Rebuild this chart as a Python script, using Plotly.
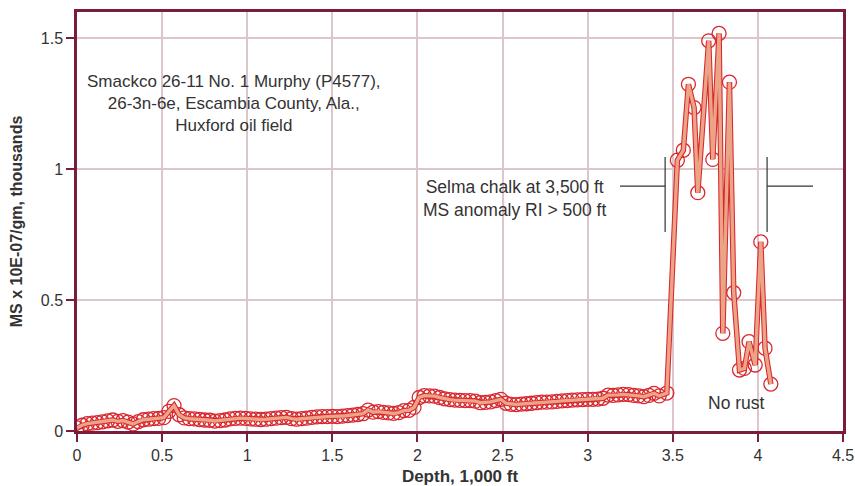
import plotly.graph_objects as go

# Magnetic susceptibility log, Smackco 26-11 No. 1 Murphy (P4577)
depth_shallow = [
    0.00, 0.03, 0.06, 0.09, 0.12, 0.15, 0.18, 0.21, 0.24, 0.27,
    0.30, 0.33, 0.36, 0.39, 0.42, 0.45, 0.48, 0.51, 0.54, 0.57,
    0.60, 0.63, 0.66, 0.69, 0.72, 0.75, 0.78, 0.81, 0.84, 0.87,
    0.90, 0.93, 0.96, 0.99, 1.02, 1.05, 1.08, 1.11, 1.14, 1.17,
    1.20, 1.23, 1.26, 1.29, 1.32, 1.35, 1.38, 1.41, 1.44, 1.47,
    1.50, 1.53, 1.56, 1.59, 1.62, 1.65, 1.68, 1.71, 1.74, 1.77,
    1.80, 1.83, 1.86, 1.89, 1.92, 1.95, 1.98, 2.01, 2.04, 2.07,
    2.10, 2.13, 2.16, 2.19, 2.22, 2.25, 2.28, 2.31, 2.34, 2.37,
    2.40, 2.43, 2.46, 2.49, 2.52, 2.55, 2.58, 2.61, 2.64, 2.67,
    2.70, 2.73, 2.76, 2.79, 2.82, 2.85, 2.88, 2.91, 2.94, 2.97,
    3.00, 3.03, 3.06, 3.09, 3.12, 3.15, 3.18, 3.21, 3.24, 3.27,
    3.30, 3.33, 3.36, 3.39, 3.42, 3.465,
]
ms_shallow = [
    0.012, 0.022, 0.028, 0.030, 0.032, 0.035, 0.039, 0.042, 0.037, 0.040,
    0.034, 0.027, 0.036, 0.043, 0.045, 0.047, 0.048, 0.051, 0.075, 0.097,
    0.062, 0.050, 0.047, 0.046, 0.044, 0.042, 0.041, 0.038, 0.040, 0.042,
    0.046, 0.048, 0.049, 0.048, 0.046, 0.045, 0.044, 0.045, 0.047, 0.049,
    0.051, 0.052, 0.047, 0.045, 0.047, 0.049, 0.052, 0.054, 0.055, 0.055,
    0.056, 0.055, 0.057, 0.059, 0.061, 0.063, 0.066, 0.080, 0.072, 0.074,
    0.071, 0.069, 0.067, 0.070, 0.078, 0.079, 0.090, 0.128, 0.135, 0.134,
    0.133, 0.128, 0.123, 0.120, 0.118, 0.117, 0.116, 0.116, 0.114, 0.108,
    0.109, 0.111, 0.116, 0.121, 0.106, 0.102, 0.101, 0.103, 0.104, 0.106,
    0.108, 0.110, 0.110, 0.111, 0.113, 0.115, 0.116, 0.118, 0.119, 0.120,
    0.121, 0.121, 0.122, 0.125, 0.137, 0.136, 0.138, 0.140, 0.139, 0.136,
    0.134, 0.131, 0.136, 0.144, 0.134, 0.145,
]

# Selma chalk interval
depth_chalk = [3.527, 3.562, 3.592, 3.625, 3.647, 3.711, 3.735, 3.772, 3.794,
               3.833, 3.858, 3.892, 3.921, 3.948, 3.984, 4.017, 4.042, 4.076]
ms_chalk = [1.034, 1.072, 1.324, 1.235, 0.910, 1.490, 1.037, 1.518, 0.373,
            1.332, 0.528, 0.233, 0.239, 0.341, 0.252, 0.722, 0.316, 0.179]

depth = depth_shallow + depth_chalk
ms = ms_shallow + ms_chalk

x_ticks = [0, 0.5, 1, 1.5, 2, 2.5, 3, 3.5, 4, 4.5]
x_labels = ["0", "0.5", "1", "1.5", "2", "2.5", "3", "3.5", "4", "4.5"]
y_ticks = [0, 0.5, 1, 1.5]
y_labels = ["0", "0.5", "1", "1.5"]

AXIS = "#7a1c3e"
GRID = "#dcc6c9"
RED = "#d9272e"
SALMON = "#eca487"
TEXT = "#333333"
FONT = "Liberation Sans, Arial, sans-serif"

fig = go.Figure()
fig.add_trace(go.Scatter(
    x=depth, y=ms, mode="markers",
    marker=dict(symbol="circle-open", size=14, color=RED, line=dict(width=1.3, color=RED)),
    hoverinfo="skip", showlegend=False,
))
fig.add_trace(go.Scatter(
    x=depth, y=ms, mode="lines",
    line=dict(color=RED, width=5.5), hoverinfo="skip", showlegend=False,
))
fig.add_trace(go.Scatter(
    x=depth, y=ms, mode="lines",
    line=dict(color=SALMON, width=3.4), showlegend=False,
))

# Bracket marking the chalk anomaly
bracket = dict(color="#333333", width=1.2)
fig.add_shape(type="line", x0=3.19, x1=3.455, y0=0.935, y1=0.935, line=bracket)
fig.add_shape(type="line", x0=3.455, x1=3.455, y0=0.76, y1=1.046, line=bracket)
fig.add_shape(type="line", x0=4.054, x1=4.054, y0=0.76, y1=1.046, line=bracket)
fig.add_shape(type="line", x0=4.054, x1=4.324, y0=0.935, y1=0.935, line=bracket)

fig.add_annotation(
    x=0.92, y=1.252, xref="x", yref="y", showarrow=False, align="center",
    text="Smackco 26-11 No. 1 Murphy (P4577),<br>26-3n-6e, Escambia County, Ala.,<br>Huxford oil field",
    font=dict(family=FONT, size=17, color=TEXT),
)
fig.add_annotation(
    x=2.573, y=0.887, xref="x", yref="y", showarrow=False, align="center",
    text="Selma chalk at 3,500 ft<br>MS anomaly RI > 500 ft",
    font=dict(family=FONT, size=17.5, color=TEXT),
)
fig.add_annotation(
    x=3.872, y=0.107, xref="x", yref="y", showarrow=False,
    text="No rust", font=dict(family=FONT, size=17.5, color=TEXT),
)

fig.update_layout(
    width=855, height=486,
    margin=dict(l=77, r=12, t=12, b=55),
    paper_bgcolor="white", plot_bgcolor="white",
    font=dict(family=FONT, color=TEXT),
)
fig.update_xaxes(
    range=[0, 4.5], tickvals=x_ticks, ticktext=x_labels, automargin=False,
    showline=True, linecolor=AXIS, linewidth=2.5, mirror=True,
    ticks="outside", ticklen=8, tickwidth=2, tickcolor=AXIS,
    showgrid=True, gridcolor=GRID, gridwidth=2, zeroline=False,
    tickfont=dict(family=FONT, size=16, color=TEXT),
    title=dict(text="<b>Depth, 1,000 ft</b>", font=dict(family=FONT, size=17, color=TEXT)),
)
fig.update_yaxes(
    range=[0, 1.6], tickvals=y_ticks, ticktext=y_labels, automargin=False,
    showline=True, linecolor=AXIS, linewidth=2.5, mirror=True,
    ticks="outside", ticklen=8, tickwidth=2, tickcolor=AXIS,
    showgrid=True, gridcolor=GRID, gridwidth=2, zeroline=False,
    tickfont=dict(family=FONT, size=16, color=TEXT),
    title=dict(text="<b>MS x 10E-07/gm, thousands</b>", font=dict(family=FONT, size=16, color=TEXT)),
)

fig.write_html("out.html")
